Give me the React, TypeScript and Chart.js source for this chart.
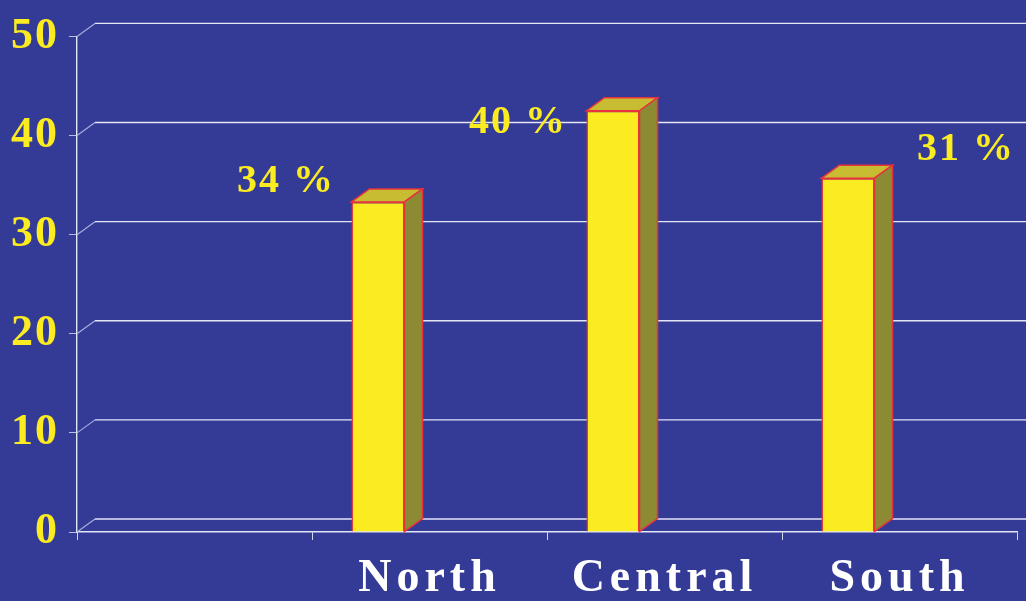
import React, { useEffect, useRef } from "react";
import { Chart, registerables } from "chart.js";

Chart.register(...registerables);

const categories = ["", "North", "Central", "South"];
const barValues = [null, 33.3, 42.5, 35.7];
const spacerValues = [null, null, null, null];
const valueLabels = ["", "34 %", "40 %", "31 %"];
const yTicks = [0, 10, 20, 30, 40, 50];

const BG = "#333B96";
const YELLOW = "#FBEB21";
const SERIF = "'Liberation Serif', serif";
const DEPTH_X = 18;
const DEPTH_Y = 13;
const labelShift: Record<number, [number, number]> = {
  1: [-92, -20],
  2: [-95, 12],
  3: [118, -28],
};

const threeD = {
  id: "threeD",
  afterLayout(chart: any) {
    const patch = (s: any, spacing: string) => {
      if (s._spaced) return;
      s._spaced = true;
      const orig = s.drawLabels.bind(s);
      s.drawLabels = (a: any) => {
        const c = chart.ctx;
        c.save();
        c.letterSpacing = spacing;
        orig(a);
        c.restore();
      };
    };
    patch(chart.scales.x, "5px");
    patch(chart.scales.y, "2px");
  },
  beforeDatasetsDraw(chart: any) {
    const { ctx, scales, chartArea, width } = chart;
    const y = scales.y;
    ctx.save();
    yTicks.forEach((v) => {
      const py = y.getPixelForValue(v);
      ctx.strokeStyle = "#A9AEDC";
      ctx.lineWidth = 1.2;
      ctx.beginPath();
      ctx.moveTo(chartArea.left, py);
      ctx.lineTo(chartArea.left + DEPTH_X, py - DEPTH_Y);
      ctx.stroke();
      ctx.strokeStyle = "#E4E6F6";
      ctx.lineWidth = 1.4;
      ctx.beginPath();
      ctx.moveTo(chartArea.left + DEPTH_X, py - DEPTH_Y);
      ctx.lineTo(width, py - DEPTH_Y);
      ctx.stroke();
    });
    ctx.restore();
  },
  afterDatasetsDraw(chart: any) {
    const { ctx } = chart;
    const bars = chart.getDatasetMeta(0).data;
    ctx.save();
    ctx.strokeStyle = "#E8323C";
    ctx.lineWidth = 1.5;
    ctx.lineJoin = "miter";
    bars.forEach((bar: any, i: number) => {
      if (barValues[i] == null) return;
      const l = bar.x - bar.width / 2;
      const r = bar.x + bar.width / 2;
      const t = bar.y;
      const b = bar.base;
      ctx.fillStyle = "#C8BC32";
      ctx.beginPath();
      ctx.moveTo(l, t);
      ctx.lineTo(l + DEPTH_X, t - DEPTH_Y);
      ctx.lineTo(r + DEPTH_X, t - DEPTH_Y);
      ctx.lineTo(r, t);
      ctx.closePath();
      ctx.fill();
      ctx.stroke();
      ctx.fillStyle = "#8C8A33";
      ctx.beginPath();
      ctx.moveTo(r, t);
      ctx.lineTo(r + DEPTH_X, t - DEPTH_Y);
      ctx.lineTo(r + DEPTH_X, b - DEPTH_Y);
      ctx.lineTo(r, b);
      ctx.closePath();
      ctx.fill();
      ctx.stroke();
      const shift = labelShift[i];
      ctx.save();
      ctx.fillStyle = YELLOW;
      ctx.font = `bold 40px ${SERIF}`;
      (ctx as any).letterSpacing = "2px";
      ctx.textAlign = "center";
      ctx.textBaseline = "middle";
      ctx.fillText(valueLabels[i], bar.x + shift[0], t + shift[1]);
      ctx.restore();
    });
    ctx.restore();
  },
};

export default function App() {
  const ref = useRef<HTMLCanvasElement>(null);
  useEffect(() => {
    document.body.style.margin = "0";
    document.body.style.background = BG;
    const chart = new Chart(ref.current as HTMLCanvasElement, {
      type: "bar",
      data: {
        labels: categories,
        datasets: [
          {
            data: barValues as any,
            backgroundColor: YELLOW,
            borderColor: "#E8323C",
            borderWidth: 1.5,
            categoryPercentage: 0.877,
            barPercentage: 0.515,
          },
          {
            data: spacerValues as any,
            categoryPercentage: 0.877,
            barPercentage: 0.515,
          },
        ],
      },
      plugins: [threeD],
      options: {
        animation: false,
        responsive: false,
        layout: { padding: { top: 33, right: 9, left: 0, bottom: 0 } },
        plugins: { legend: { display: false }, title: { display: false }, tooltip: { enabled: false } },
        scales: {
          x: {
            afterFit: (s: any) => {
              s.height = 69;
            },
            border: { color: "#E4E6F6", width: 1.4 },
            grid: { drawOnChartArea: false, color: "#D5D8F0", tickLength: 8 },
            ticks: {
              color: "#FFFFFF",
              maxRotation: 0,
              font: { family: SERIF, size: 46, weight: "bold" },
              padding: 12,
              autoSkip: false,
            },
          },
          y: {
            min: 0,
            max: 50,
            afterFit: (s: any) => {
              s.width = 77;
            },
            border: { color: "#E4E6F6", width: 1.4 },
            grid: { drawOnChartArea: false, color: "#B9BDE3", tickLength: 8 },
            ticks: {
              stepSize: 10,
              color: YELLOW,
              font: { family: SERIF, size: 44, weight: "bold" },
              padding: 10,
            },
          },
        },
      },
    } as any);
    return () => chart.destroy();
  }, []);
  return (
    <div style={{ width: 1026, height: 601, background: BG }}>
      <canvas ref={ref} width={1026} height={601} style={{ display: "block" }} />
    </div>
  );
}
